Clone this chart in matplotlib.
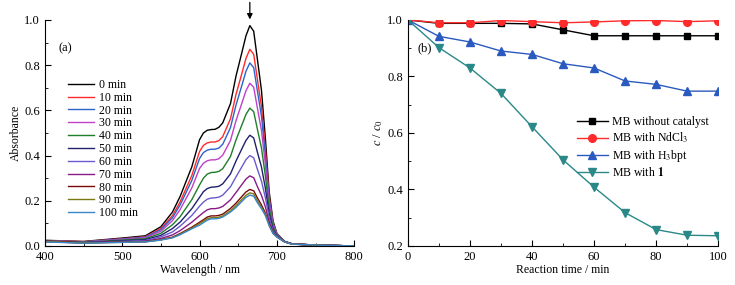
import matplotlib
matplotlib.use("Agg")
import matplotlib.pyplot as plt
from matplotlib.ticker import MultipleLocator

plt.rcParams['font.family'] = ['Liberation Serif', 'DejaVu Serif']
plt.rcParams['mathtext.fontset'] = 'stix'

# (a) UV-vis spectra
wavelength = [400, 450, 500, 530, 550, 565, 575, 590, 600, 605, 610, 615, 620, 625, 630, 640,
              647, 655, 660, 665, 670, 675, 680, 685, 690, 695, 700, 710, 720, 750, 800]
spectra = {
    '0 min':   [0.025, 0.02, 0.035, 0.045, 0.085, 0.15, 0.22, 0.35, 0.47, 0.50, 0.512, 0.515, 0.516, 0.525, 0.545, 0.63,
                0.75, 0.86, 0.93, 0.975, 0.95, 0.82, 0.69, 0.48, 0.24, 0.11, 0.055, 0.02, 0.009, 0.004, 0.0],
    '10 min':  [0.024, 0.019, 0.032, 0.041, 0.077, 0.134, 0.196, 0.312, 0.418, 0.445, 0.456, 0.46, 0.46, 0.466, 0.484, 0.563,
                0.669, 0.767, 0.83, 0.87, 0.848, 0.732, 0.617, 0.432, 0.219, 0.102, 0.053, 0.02, 0.009, 0.004, 0.0],
    '20 min':  [0.023, 0.018, 0.031, 0.039, 0.072, 0.125, 0.182, 0.29, 0.387, 0.413, 0.424, 0.428, 0.428, 0.433, 0.45, 0.524,
                0.622, 0.714, 0.773, 0.81, 0.789, 0.681, 0.575, 0.404, 0.207, 0.098, 0.052, 0.02, 0.009, 0.004, 0.0],
    '30 min':  [0.023, 0.017, 0.029, 0.036, 0.065, 0.112, 0.162, 0.257, 0.343, 0.366, 0.377, 0.381, 0.381, 0.386, 0.402, 0.467,
                0.553, 0.635, 0.687, 0.72, 0.702, 0.606, 0.512, 0.363, 0.189, 0.091, 0.05, 0.02, 0.009, 0.004, 0.0],
    '40 min':  [0.022, 0.016, 0.026, 0.032, 0.056, 0.094, 0.13, 0.205, 0.27, 0.3, 0.318, 0.325, 0.326, 0.33, 0.342, 0.396,
                0.468, 0.538, 0.582, 0.61, 0.594, 0.513, 0.434, 0.312, 0.167, 0.083, 0.048, 0.019, 0.009, 0.004, 0.0],
    '50 min':  [0.02, 0.015, 0.023, 0.028, 0.047, 0.077, 0.106, 0.165, 0.215, 0.24, 0.254, 0.26, 0.261, 0.264, 0.275, 0.319,
                0.375, 0.432, 0.467, 0.49, 0.478, 0.412, 0.35, 0.257, 0.143, 0.074, 0.045, 0.019, 0.009, 0.004, 0.0],
    '60 min':  [0.02, 0.014, 0.02, 0.024, 0.04, 0.062, 0.088, 0.135, 0.176, 0.194, 0.207, 0.212, 0.213, 0.216, 0.225, 0.262,
                0.305, 0.352, 0.382, 0.40, 0.39, 0.337, 0.287, 0.215, 0.125, 0.068, 0.043, 0.018, 0.008, 0.004, 0.0],
    '70 min':  [0.019, 0.013, 0.018, 0.021, 0.033, 0.049, 0.068, 0.105, 0.134, 0.148, 0.16, 0.165, 0.165, 0.168, 0.175, 0.204,
                0.236, 0.273, 0.296, 0.31, 0.302, 0.261, 0.224, 0.174, 0.107, 0.061, 0.042, 0.018, 0.008, 0.004, 0.0],
    '80 min':  [0.022, 0.014, 0.017, 0.019, 0.028, 0.039, 0.055, 0.083, 0.105, 0.116, 0.128, 0.133, 0.133, 0.135, 0.141, 0.166,
                0.189, 0.22, 0.239, 0.25, 0.244, 0.211, 0.182, 0.146, 0.095, 0.057, 0.04, 0.018, 0.008, 0.004, 0.0],
    '90 min':  [0.02, 0.013, 0.016, 0.018, 0.027, 0.037, 0.052, 0.079, 0.099, 0.11, 0.12, 0.125, 0.125, 0.127, 0.133, 0.156,
                0.178, 0.207, 0.224, 0.235, 0.23, 0.198, 0.172, 0.14, 0.092, 0.056, 0.04, 0.018, 0.008, 0.004, 0.0],
    '100 min': [0.018, 0.012, 0.016, 0.018, 0.026, 0.036, 0.05, 0.076, 0.092, 0.103, 0.114, 0.12, 0.12, 0.122, 0.128, 0.15,
                0.17, 0.198, 0.215, 0.225, 0.22, 0.19, 0.165, 0.135, 0.09, 0.055, 0.04, 0.018, 0.008, 0.004, 0.0],
}
spec_colors = ['#000000', '#ff2a2a', '#2a64c8', '#c040c8', '#1e7e2a', '#202070',
               '#6a5ad0', '#8a1a8a', '#7a0a0a', '#7a7a10', '#3a86c8']

# (b) degradation
time = [0, 10, 20, 30, 40, 50, 60, 70, 80, 90, 100]
no_catalyst = [1.0, 0.988, 0.988, 0.988, 0.986, 0.965, 0.944, 0.944, 0.944, 0.944, 0.944]
with_ndcl3 = [1.0, 0.99, 0.99, 0.998, 0.994, 0.99, 0.993, 0.997, 0.998, 0.994, 0.997]
with_h3bpt = [1.0, 0.942, 0.922, 0.89, 0.878, 0.845, 0.83, 0.784, 0.772, 0.748, 0.748]
with_1 = [1.0, 0.902, 0.83, 0.74, 0.622, 0.505, 0.408, 0.318, 0.258, 0.238, 0.236]

fig = plt.figure(figsize=(7.35, 2.85), dpi=100)
ax1 = fig.add_axes([0.061, 0.137, 0.421, 0.793])
ax2 = fig.add_axes([0.555, 0.137, 0.422, 0.793])

for (lab, vals), col in zip(spectra.items(), spec_colors):
    ax1.plot(wavelength, vals, color=col, lw=1.0, label=lab)
ax1.set_xlim(400, 800)
ax1.set_ylim(0, 1.0)
ax1.xaxis.set_major_locator(MultipleLocator(100))
ax1.xaxis.set_minor_locator(MultipleLocator(50))
ax1.yaxis.set_major_locator(MultipleLocator(0.2))
ax1.yaxis.set_minor_locator(MultipleLocator(0.1))
ax1.set_xlabel('Wavelength / nm', fontsize=8.5, labelpad=1)
ax1.set_ylabel('Absorbance', fontsize=8.5, labelpad=2)
ax1.text(0.045, 0.86, '(a)', transform=ax1.transAxes, fontsize=9)
ax1.legend(loc='upper left', bbox_to_anchor=(0.06, 0.76), frameon=False, fontsize=8.5,
           handlelength=2.2, labelspacing=0.07, borderaxespad=0, handletextpad=0.4)
ax1.annotate('', xy=(665, 0.99), xytext=(665, 1.09),
             arrowprops=dict(arrowstyle='-|>', color='black', lw=0.9, mutation_scale=8),
             annotation_clip=False)

ax2.plot(time, no_catalyst, color='black', marker='s', ms=5, lw=1.0, label='MB without catalyst')
ax2.plot(time, with_ndcl3, color='#ff2a2a', marker='o', ms=5.5, lw=1.0, label='MB with NdCl$_3$')
ax2.plot(time, with_h3bpt, color='#2a5ac0', marker='^', ms=6, lw=1.0, label='MB with H$_3$bpt')
ax2.plot(time, with_1, color='#2a8888', marker='v', ms=6, lw=1.0, label=r'MB with $\mathbf{1}$')
ax2.set_xlim(0, 100)
ax2.set_ylim(0.2, 1.0)
ax2.xaxis.set_major_locator(MultipleLocator(20))
ax2.xaxis.set_minor_locator(MultipleLocator(10))
ax2.yaxis.set_major_locator(MultipleLocator(0.2))
ax2.yaxis.set_minor_locator(MultipleLocator(0.1))
ax2.set_xlabel('Reaction time / min', fontsize=8.5, labelpad=1)
ax2.set_ylabel('$c$ / $c_0$', fontsize=9, labelpad=2)
ax2.text(0.03, 0.86, '(b)', transform=ax2.transAxes, fontsize=9)
ax2.legend(loc='upper left', bbox_to_anchor=(0.53, 0.595), frameon=False, fontsize=8.5,
           handlelength=2.6, labelspacing=0.22, borderaxespad=0, handletextpad=0.4)

for ax in (ax1, ax2):
    ax.spines['top'].set_visible(False)
    ax.spines['right'].set_visible(False)
    ax.tick_params(which='both', direction='in', labelsize=9)
    ax.tick_params(which='major', length=4)
    ax.tick_params(which='minor', length=2)

fig.savefig('out.png', dpi=100)
